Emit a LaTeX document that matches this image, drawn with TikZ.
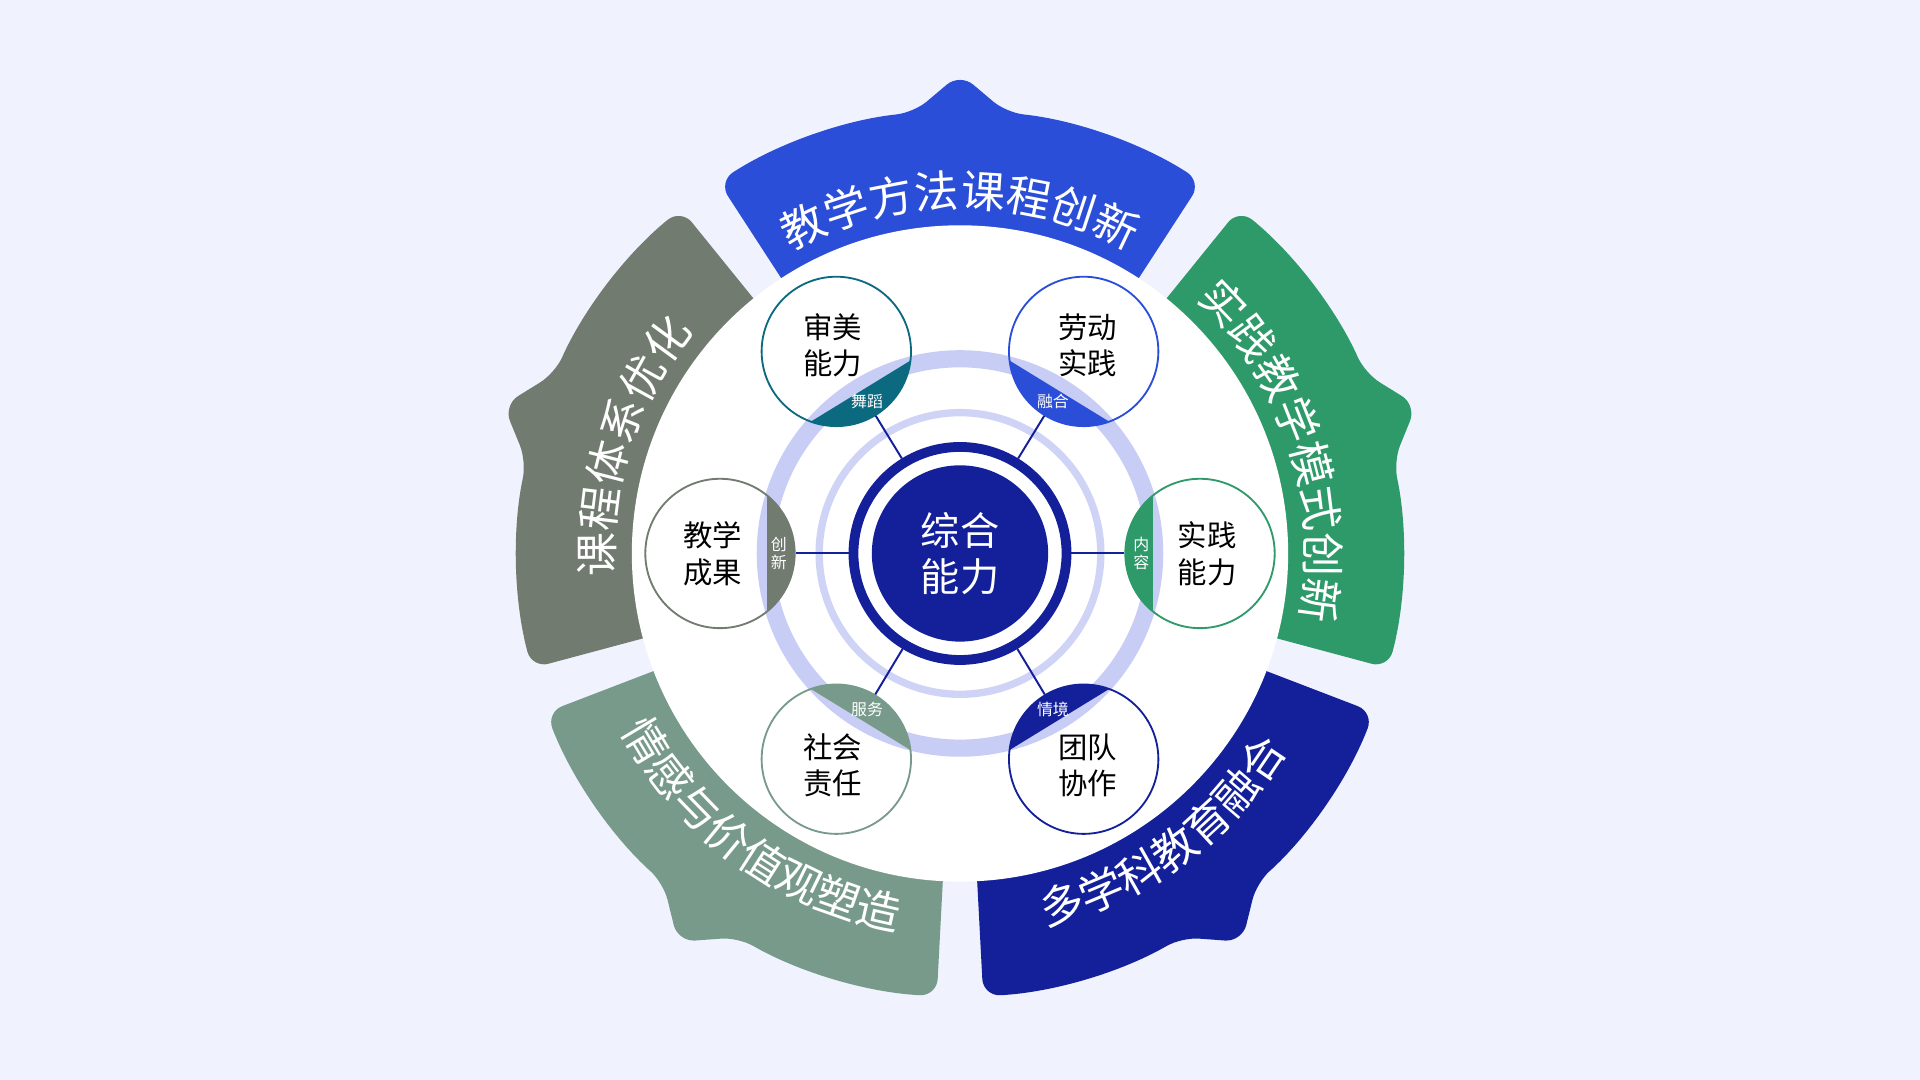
\documentclass[tikz,border=0pt]{standalone}
\usepackage{fontspec}
\setmainfont{Noto Sans CJK SC}
\usetikzlibrary{decorations.text,positioning,calc}
\definecolor{fondo}{RGB}{240,242,254}
\definecolor{azulB}{RGB}{43,78,216}
\definecolor{verdeB}{RGB}{46,154,106}
\definecolor{marino}{RGB}{20,32,154}
\definecolor{salvia}{RGB}{120,154,139}
\definecolor{grisB}{RGB}{113,123,112}
\definecolor{tealD}{RGB}{12,106,128}
\definecolor{lila}{RGB}{199,205,244}
\tikzset{
  sat/.style={circle, draw, line width=1.5pt, fill=white, minimum size=122pt,
              inner sep=0pt, align=center, font=\fontsize{24}{29}\selectfont},
  spoke/.style={marino, line width=1.6pt},
  tag/.style={text=white, align=center, font=\fontsize{13}{15}\selectfont}
}
\begin{document}
\begin{tikzpicture}[x=1pt,y=1pt]
    \fill[fondo] (-784,-430) rectangle (784,452);
    \useasboundingbox (-784,-430) rectangle (784,452);

    % banners
    \foreach \m/\col in {90/azulB,18/verdeB,-54/marino,-126/salvia,162/grisB}
        \fill[\col, rounded corners=14pt] (\m+33:240) arc[start angle=\m+33, end angle=\m-33, radius=240]
            -- (\m-33:362) arc[start angle=\m-33, end angle=\m-6, radius=362]
            -- (\m:392) -- (\m+6:362) arc[start angle=\m+6, end angle=\m+33, radius=362] -- cycle;

    % banner texts, clockwise
    \foreach \m/\txt in {90/教学方法课程创新,18/实践教学模式创新,162/课程体系优化}
        \path[decorate, decoration={text along path, text align=center,
            text={|\color{white}\fontsize{36}{36}\selectfont|\txt}}]
            (\m+32:283) arc[start angle=\m+32, end angle=\m-32, radius=283];
    % banner texts, counterclockwise
    \foreach \m/\txt in {-54/多学科教育融合,-126/情感与价值观塑造}
        \path[decorate, decoration={text along path, text align=center,
            text={|\color{white}\fontsize{36}{36}\selectfont|\txt}}]
            (\m-32:312) arc[start angle=\m-32, end angle=\m+32, radius=312];

    \fill[white] (0,0) circle (268);
    \draw[lila, line width=14pt] (0,0) circle (159);
    \draw[lila!85, line width=6pt] (0,0) circle (115);

    \node (c) [circle, draw=marino, line width=8pt, fill=white, minimum size=174pt] {};
    \node (cc) [circle, fill=marino, minimum size=144pt, text=white, align=center,
        font=\fontsize{32}{38}\selectfont] at (c) {综合\\能力};

    \foreach \n/\x/\y/\col/\lab/\tl/\ang in {
        sm/-101/165/tealD/审美\\能力/舞蹈/-58.5,
        ld/101/165/azulB/劳动\\实践/融合/-121.5,
        jx/-196/0/grisB/教学\\成果/创\\新/0,
        sj/196/0/verdeB/实践\\能力/内\\容/180,
        sh/-101/-168/salvia/社会\\责任/服务/58.5,
        td/101/-168/marino/团队\\协作/情境/121.5} {
        \begin{scope}
            \clip (\x,\y) circle (61);
            \fill[\col, rotate around={\ang:(\x,\y)}] (\x+38,\y-70) rectangle (\x+80,\y+70);
        \end{scope}
        \node (\n) [sat, draw=\col, fill=none] at (\x,\y) {};
        \node[tag] at ($(\x,\y)+(\ang:48)$) {\tl};
        \node at ($(\x,\y)+(\ang+180:6)$) [align=center, font=\fontsize{24}{30}\selectfont] {\lab};
        \draw[spoke] (c) -- (\n);
    }
\end{tikzpicture}
\end{document}
